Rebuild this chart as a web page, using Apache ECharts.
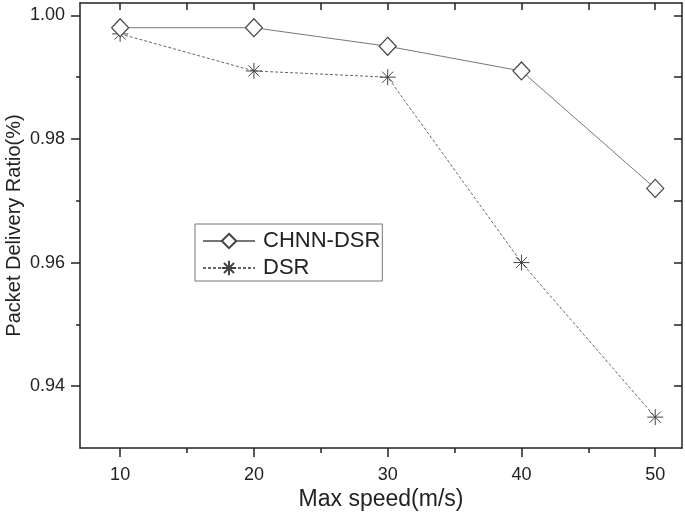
<!DOCTYPE html>
<html>
<head>
<meta charset="utf-8">
<script src="https://cdn.jsdelivr.net/npm/echarts@6/dist/echarts.min.js"></script>
<style>
  html, body { margin: 0; padding: 0; background: #fff; }
  #main { width: 685px; height: 512px; }
</style>
</head>
<body>
<div id="main"></div>
<script>
// data
const speeds = [10, 20, 30, 40, 50];
const chnnDsr = [0.998, 0.998, 0.995, 0.991, 0.972];
const dsr = [0.997, 0.991, 0.990, 0.960, 0.935];

const xMajor = [10, 20, 30, 40, 50];
const xMinor = [15, 25, 35, 45];
const yMajor = [0.94, 0.96, 0.98, 1.00];
const yMinor = [0.95, 0.97, 0.99];

const font = 'Liberation Sans, Arial, sans-serif';
const axisColor = '#222';

const chart = echarts.init(document.getElementById('main'), null, { renderer: 'canvas' });

// asterisk marker (4 strokes)
const asterisk = 'path://M10,0L10,20M0,10L20,10M3,3L17,17M3,17L17,3';

const baseX = { type: 'value', min: 7, max: 52, gridIndex: 0, splitLine: { show: false } };
const baseY = { type: 'value', min: 0.93, max: 1.002, gridIndex: 0, splitLine: { show: false } };

chart.setOption({
  animation: false,
  backgroundColor: '#fff',
  grid: { left: 80, right: 3, top: 3, bottom: 64, containLabel: false, outerBoundsMode: 'none' },
  legend: {
    orient: 'vertical',
    left: 195,
    top: 224,
    padding: [6, 2, 2, 7],
    itemGap: 5,
    itemWidth: 52,
    itemHeight: 18,
    borderColor: '#777',
    borderWidth: 1,
    textStyle: { fontFamily: font, fontSize: 22, color: '#222', padding: [0, 0, 0, 3] },
    data: ['CHNN-DSR', 'DSR']
  },
  xAxis: [
    Object.assign({}, baseX, {
      position: 'bottom',
      name: 'Max speed(m/s)',
      nameLocation: 'middle',
      nameGap: 40,
      nameMoveOverlap: false,
      nameTextStyle: { fontFamily: font, fontSize: 23, color: '#222' },
      axisLine: { lineStyle: { color: axisColor, width: 1.5 } },
      axisTick: { customValues: xMajor, length: 9, lineStyle: { color: axisColor, width: 1.5 } },
      axisLabel: { customValues: xMajor, margin: 18, fontFamily: font, fontSize: 18, color: '#222' }
    }),
    Object.assign({}, baseX, {
      position: 'bottom',
      axisLine: { show: false },
      axisTick: { customValues: xMinor, length: 5, lineStyle: { color: axisColor, width: 1.5 } },
      axisLabel: { show: false }
    }),
    Object.assign({}, baseX, {
      position: 'top',
      axisLine: { lineStyle: { color: axisColor, width: 1.5 } },
      axisTick: { customValues: xMajor.concat(xMinor), inside: true, length: 7, lineStyle: { color: axisColor, width: 1.5 } },
      axisLabel: { show: false }
    })
  ],
  yAxis: [
    Object.assign({}, baseY, {
      position: 'left',
      name: 'Packet Delivery Ratio(%)',
      nameLocation: 'middle',
      nameGap: 56,
      nameMoveOverlap: false,
      nameTextStyle: { fontFamily: font, fontSize: 20, color: '#222' },
      axisLine: { lineStyle: { color: axisColor, width: 1.5 } },
      axisTick: { customValues: yMajor, length: 9, lineStyle: { color: axisColor, width: 1.5 } },
      axisLabel: {
        customValues: yMajor, margin: 15, fontFamily: font, fontSize: 18, color: '#222',
        formatter: v => v.toFixed(2)
      }
    }),
    Object.assign({}, baseY, {
      position: 'left',
      axisLine: { show: false },
      axisTick: { customValues: yMinor, length: 4, lineStyle: { color: axisColor, width: 1.5 } },
      axisLabel: { show: false }
    }),
    Object.assign({}, baseY, {
      position: 'right',
      axisLine: { lineStyle: { color: axisColor, width: 1.5 } },
      axisTick: { customValues: yMajor.concat(yMinor), inside: true, length: 8, lineStyle: { color: axisColor, width: 1.5 } },
      axisLabel: { show: false }
    })
  ],
  series: [
    {
      name: 'CHNN-DSR',
      type: 'line',
      xAxisIndex: 0,
      yAxisIndex: 0,
      data: speeds.map((s, i) => [s, chnnDsr[i]]),
      symbol: 'diamond',
      symbolSize: [17, 18],
      showAllSymbol: true,
      lineStyle: { color: '#777', width: 1 },
      itemStyle: { color: '#fff', borderColor: '#444', borderWidth: 1.2 },
      z: 3
    },
    {
      name: 'DSR',
      type: 'line',
      xAxisIndex: 0,
      yAxisIndex: 0,
      data: speeds.map((s, i) => [s, dsr[i]]),
      symbol: asterisk,
      symbolSize: 16,
      showAllSymbol: true,
      lineStyle: { color: '#666', width: 1, type: [3, 2] },
      itemStyle: { color: '#222', borderColor: '#444', borderWidth: 1 },
      z: 2
    }
  ]
});
</script>
</body>
</html>
